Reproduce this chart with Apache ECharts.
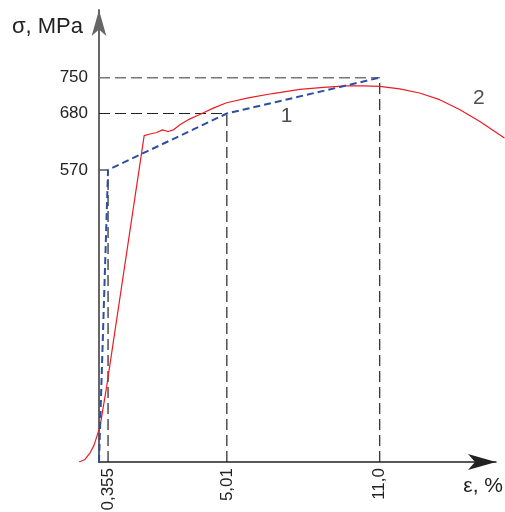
<!DOCTYPE html>
<html>
<head>
    <meta charset="utf-8">
    <title>σ–ε</title>
    <script src="https://cdn.jsdelivr.net/npm/echarts@6/dist/echarts.min.js"></script>
    <style>
        html, body { margin: 0; padding: 0; background: #fff; }
        #chart { width: 505px; height: 512px; }
    </style>
</head>
<body>
<div id="chart"></div>
<script>
    // curve 1 (blue dashed), strain %, stress MPa
    var curve1 = [[0, 0], [0.355, 570], [5.01, 680], [11.0, 750]];
    // curve 2 (red)
    var curve2 = [
        [-0.78, 0], [-0.55, 5], [-0.35, 18], [-0.2, 32], [-0.09, 49], [0.04, 69],
        [0.3, 147], [1.77, 637], [2.0, 640], [2.26, 643], [2.49, 648], [2.71, 645],
        [2.91, 648], [3.17, 658], [3.5, 668], [3.95, 678], [4.5, 691], [5.0, 701],
        [5.9, 711], [6.81, 719], [7.87, 727], [8.8, 731], [9.69, 734], [10.4, 734],
        [11.0, 733], [11.78, 728], [12.56, 720], [13.35, 707], [14.13, 688],
        [14.91, 665], [15.89, 632]
    ];
    var xTicks = [0.355, 5.01, 11.0];
    var xTickLabels = ['0,355', '5,01', '11,0'];
    var yTicks = [570, 680, 750];
    var curveNames = [{ name: '1', value: [7.35, 674] }, { name: '2', value: [14.88, 710] }];

    var chart = echarts.init(document.getElementById('chart'));

    function seg(a, b, color, width, type) {
        return {
            type: 'line', data: [a, b], symbol: 'none', silent: true, z: 1,
            lineStyle: { color: color, width: width, type: type }
        };
    }

    var dash = [11, 5];
    var series = [
        // guide lines from the vertices of curve 1
        seg([0, yTicks[2]], [xTicks[2], yTicks[2]], '#777', 1.5, dash),
        seg([0, yTicks[1]], [xTicks[1], yTicks[1]], '#222', 1.2, dash),
        seg([xTicks[1], 0], [xTicks[1], yTicks[1]], '#222', 1.2, dash),
        seg([xTicks[2], 0], [xTicks[2], yTicks[2]], '#222', 1.2, dash),
        seg([xTicks[0], 0], [xTicks[0], yTicks[0]], '#222', 1.2, dash),
        seg([0, yTicks[0]], [xTicks[0], yTicks[0]], '#555', 1.5, 'solid'),
        {
            name: '2', type: 'line', data: curve2, symbol: 'none', z: 3,
            lineStyle: { color: '#ec1c24', width: 1.2 }
        },
        {
            name: '1', type: 'line', data: curve1, symbol: 'none', z: 4,
            lineStyle: { color: '#2d4fa3', width: 2, type: [7, 4] }
        },
        {
            type: 'scatter', data: curveNames, symbolSize: 0, z: 5,
            label: {
                show: true, position: 'inside', formatter: '{b}',
                color: '#222', fontSize: 21, fontFamily: 'Liberation Sans'
            }
        }
    ];

    var option = {
        animation: false,
        backgroundColor: '#fff',
        grid: [
            // main plot, x from -0.85 so the foot of curve 2 shows
            { left: 77.3, top: 10, width: 430, height: 452, outerBoundsMode: 'none' },
            // second grid carries the axis lines and labels starting at 0
            { left: 99, top: 10, width: 397, height: 452, outerBoundsMode: 'none' }
        ],
        xAxis: [{
            type: 'value', min: -0.85, max: 16,
            splitLine: { show: false },
            axisTick: { show: false },
            axisLine: { show: false },
            axisLabel: {
                customValues: xTicks, rotate: 90, margin: 6,
                color: '#222', fontSize: 17, fontFamily: 'Liberation Sans',
                formatter: function (v) {
                    var i = xTicks.indexOf(v);
                    return i >= 0 ? xTickLabels[i] : '';
                }
            }
        }, {
            gridIndex: 1, type: 'value', min: 0, max: 15.55,
            splitLine: { show: false },
            axisTick: { show: false },
            axisLabel: { show: false },
            axisLine: {
                lineStyle: { color: '#222', width: 1.5 },
                symbol: ['none', 'arrow'], symbolSize: [12, 28]
            }
        }],
        yAxis: [{
            type: 'value', min: 0, max: 882, show: false
        }, {
            gridIndex: 1, type: 'value', min: 0, max: 882,
            splitLine: { show: false },
            axisTick: { show: false },
            axisLine: {
                lineStyle: { color: '#666', width: 2 },
                symbol: ['none', 'arrow'], symbolSize: [11, 26]
            },
            axisLabel: {
                customValues: yTicks, margin: 11,
                color: '#222', fontSize: 17, fontFamily: 'Liberation Sans'
            }
        }],
        graphic: [
            {
                type: 'text', right: 505 - 83, top: 16,
                style: { text: 'σ, MPa', fill: '#222', fontSize: 22, fontFamily: 'Liberation Sans' }
            },
            {
                type: 'text', right: 2, top: 476,
                style: { text: 'ε, %', fill: '#222', fontSize: 21, fontFamily: 'Liberation Sans' }
            }
        ],
        series: series
    };

    chart.setOption(option);

    window.onresize = function () {
        chart.resize();
    };
</script>
</body>
</html>
